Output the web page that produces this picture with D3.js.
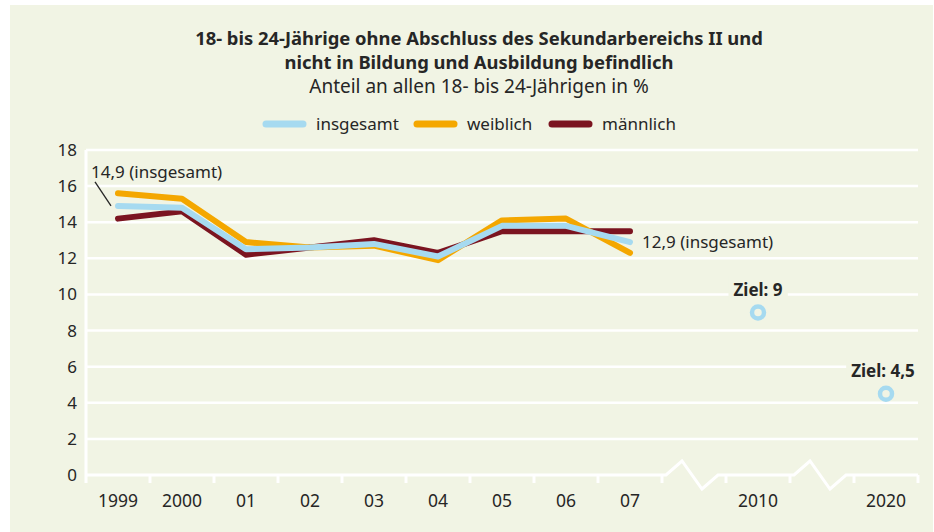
<!DOCTYPE html>
<html>
<head>
<meta charset="utf-8">
<script src="https://cdn.jsdelivr.net/npm/d3@7/dist/d3.min.js"></script>
<style>
  body { margin: 0; background: #fff; }
  svg { display: block; font-family: "Noto Sans", sans-serif; }
</style>
</head>
<body>
<div id="graph"></div>
<script>
// values
let years = ["1999", "2000", "01", "02", "03", "04", "05", "06", "07"];
let xSlots = ["1999", "2000", "01", "02", "03", "04", "05", "06", "07", "gap1", "2010", "gap2", "2020"];
let gaps = ["gap1", "gap2"];
let insgesamt = [14.9, 14.8, 12.5, 12.6, 12.8, 12.1, 13.8, 13.8, 12.9];
let weiblich = [15.6, 15.3, 12.9, 12.6, 12.7, 11.9, 14.1, 14.2, 12.3];
let maennlich = [14.2, 14.6, 12.2, 12.6, 13.0, 12.3, 13.5, 13.5, 13.5];
let targetYears = ["2010", "2020"];
let targetValues = [9, 4.5];
let targetLabels = ["Ziel: 9", "Ziel: 4,5"];
let yTicks = [0, 2, 4, 6, 8, 10, 12, 14, 16, 18];

let titleLines = ["18- bis 24-Jährige ohne Abschluss des Sekundarbereichs II und",
                  "nicht in Bildung und Ausbildung befindlich"];
let subtitle = "Anteil an allen 18- bis 24-Jährigen in %";

let series = [
  { name: "männlich", values: maennlich, color: "#7b1420" },
  { name: "weiblich", values: weiblich, color: "#f4a700" },
  { name: "insgesamt", values: insgesamt, color: "#a6daf0" }
];
let legendOrder = ["insgesamt", "weiblich", "männlich"];

let width = 934, height = 532;
let bg = "#f1f4e4";
let textColor = "#262626";

let svg = d3.select("#graph").append("svg")
  .attr("width", width)
  .attr("height", height);

svg.append("rect")
  .attr("x", 10).attr("y", 5)
  .attr("width", width - 11).attr("height", height - 5)
  .attr("fill", bg);

let x = d3.scaleBand().domain(xSlots).range([86, 918]).padding(0);
let y = d3.scaleLinear().domain([0, 18]).range([475, 150]);
let bw = x.bandwidth();
let cx = d => x(d) + bw / 2;

// title
svg.selectAll(".title")
  .data(titleLines)
  .enter().append("text")
  .attr("x", 479)
  .attr("y", (d, i) => 45 + i * 24)
  .attr("text-anchor", "middle")
  .attr("font-size", 18.4)
  .attr("font-weight", "bold")
  .attr("fill", textColor)
  .text(d => d);

svg.append("text")
  .attr("x", 479).attr("y", 93)
  .attr("text-anchor", "middle")
  .attr("font-size", 19)
  .attr("fill", textColor)
  .text(subtitle);

// legend
let legendX = [263, 414, 549];
let legend = svg.selectAll(".legend")
  .data(legendOrder)
  .enter().append("g")
  .attr("transform", (d, i) => "translate(" + legendX[i] + ",124)");
legend.append("line")
  .attr("x1", 3).attr("x2", 40)
  .attr("stroke", d => series.find(s => s.name === d).color)
  .attr("stroke-width", 7)
  .attr("stroke-linecap", "round");
legend.append("text")
  .attr("x", 53).attr("y", 6)
  .attr("font-size", 17)
  .attr("fill", textColor)
  .text(d => d);

// gridlines
svg.selectAll(".grid")
  .data(yTicks.filter(t => t > 0))
  .enter().append("line")
  .attr("x1", 86).attr("x2", 918)
  .attr("y1", d => y(d)).attr("y2", d => y(d))
  .attr("stroke", "#fff")
  .attr("stroke-width", 2.5);

// y tick labels
svg.selectAll(".ylab")
  .data(yTicks)
  .enter().append("text")
  .attr("x", 77)
  .attr("y", d => y(d) + 6)
  .attr("text-anchor", "end")
  .attr("font-size", 17)
  .attr("fill", textColor)
  .text(d => d);

// left axis
svg.append("line")
  .attr("x1", 86).attr("x2", 86)
  .attr("y1", y(18)).attr("y2", y(0) + 8)
  .attr("stroke", "#fff").attr("stroke-width", 3);

// bottom axis with zigzag breaks
let axisPts = [[86, y(0)]];
gaps.forEach(g => {
  let s = x(g);
  axisPts.push([s + 4, y(0)], [s + 20, y(0) - 14], [s + 40, y(0) + 14], [s + 56, y(0)]);
});
axisPts.push([918, y(0)]);
svg.append("path")
  .attr("d", d3.line()(axisPts))
  .attr("fill", "none")
  .attr("stroke", "#fff")
  .attr("stroke-width", 3)
  .attr("stroke-linejoin", "miter");

let tickXs = xSlots.slice(1).map(d => x(d)).concat([918]);
svg.selectAll(".xtick")
  .data(tickXs)
  .enter().append("line")
  .attr("x1", d => d).attr("x2", d => d)
  .attr("y1", y(0)).attr("y2", y(0) + 8)
  .attr("stroke", "#fff").attr("stroke-width", 3);

svg.selectAll(".xlab")
  .data(years.concat(targetYears))
  .enter().append("text")
  .attr("x", d => cx(d))
  .attr("y", 507)
  .attr("text-anchor", "middle")
  .attr("font-size", 17.5)
  .attr("fill", textColor)
  .text(d => d);

// lines
let line = d3.line()
  .x((d, i) => cx(years[i]))
  .y(d => y(d));

svg.selectAll(".series")
  .data(series)
  .enter().append("path")
  .attr("d", d => line(d.values))
  .attr("fill", "none")
  .attr("stroke", d => d.color)
  .attr("stroke-width", 6)
  .attr("stroke-linecap", "round")
  .attr("stroke-linejoin", "round");

// annotations
let p0 = [cx(years[0]), y(insgesamt[0])];
svg.append("line")
  .attr("x1", p0[0] - 23).attr("y1", p0[1] - 24)
  .attr("x2", p0[0] - 7).attr("y2", p0[1])
  .attr("stroke", textColor).attr("stroke-width", 1.3);
svg.append("text")
  .attr("x", p0[0] - 27).attr("y", p0[1] - 28)
  .attr("font-size", 17)
  .attr("fill", textColor)
  .text(String(insgesamt[0]).replace(".", ",") + " (insgesamt)");

let last = insgesamt.length - 1;
svg.append("text")
  .attr("x", cx(years[last]) + 12).attr("y", y(insgesamt[last]) + 6)
  .attr("font-size", 17)
  .attr("fill", textColor)
  .text(String(insgesamt[last]).replace(".", ",") + " (insgesamt)");

// targets
let targetShift = [0, -3];
targetYears.forEach((t, i) => {
  let g = svg.append("g");
  let txt = g.append("text")
    .attr("x", cx(t) + targetShift[i])
    .attr("y", y(targetValues[i]) - 17)
    .attr("text-anchor", "middle")
    .attr("font-size", 17)
    .attr("font-weight", "bold")
    .attr("fill", textColor)
    .text(targetLabels[i]);
  let bb = txt.node().getBBox();
  g.insert("rect", "text")
    .attr("x", bb.x - 5).attr("y", bb.y - 1)
    .attr("width", bb.width + 10).attr("height", bb.height + 2)
    .attr("fill", bg);
  svg.append("circle")
    .attr("cx", cx(t))
    .attr("cy", y(targetValues[i]))
    .attr("r", 6)
    .attr("fill", bg)
    .attr("stroke", "#a6daf0")
    .attr("stroke-width", 4.5);
});
</script>
</body>
</html>
